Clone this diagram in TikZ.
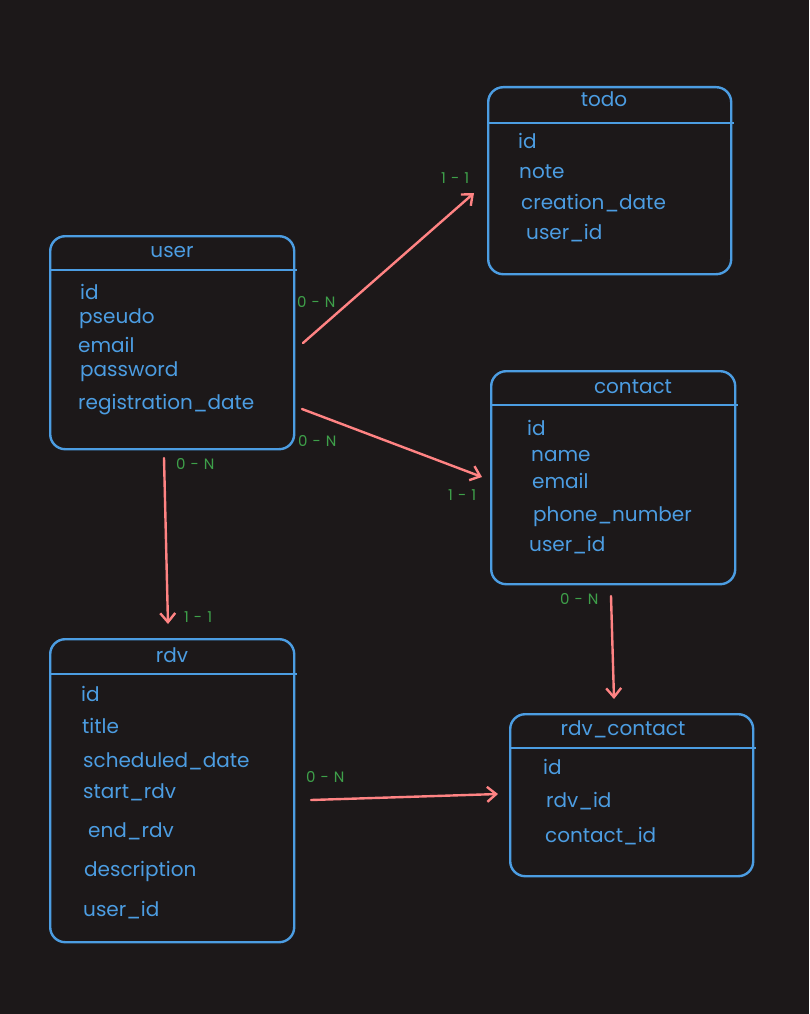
\documentclass[tikz,border=0pt]{standalone}
\usepackage{fontspec}
\setmainfont{Poppins}
\usetikzlibrary{arrows.meta}
\definecolor{bgc}{RGB}{28,24,25}
\definecolor{tblue}{RGB}{76,157,226}
\definecolor{rel}{RGB}{255,131,131}
\definecolor{card}{RGB}{62,160,74}
\tikzset{
  tbl/.style={draw=tblue, line width=2.4pt, rounded corners=15pt, inner sep=0pt, anchor=north west},
  hdr/.style={draw=tblue, line width=2.4pt},
  ttl/.style={text=tblue, font=\fontsize{20}{24}\selectfont, anchor=base, inner sep=0pt},
  fld/.style={text=tblue, font=\fontsize{20}{24}\selectfont, anchor=base west, inner sep=0pt},
  crd/.style={text=card, font=\fontsize{15}{17}\selectfont, anchor=base west, inner sep=0pt},
  link/.style={draw=rel, line width=2.4pt, line cap=round,
    -{Straight Barb[length=9pt,width=15pt,line width=2.4pt]}}
}
\begin{document}
\begin{tikzpicture}[x=1pt,y=-1pt]
  \fill[bgc] (0,0) rectangle (809,1014);
  \useasboundingbox (0,0) rectangle (809,1014);

  % ---- user ----
  \node[tbl, minimum width=244pt, minimum height=213pt] (user) at (49,235) {};
  \draw[hdr] ([yshift=-35pt]user.north west) -- ([xshift=2pt,yshift=-35pt]user.north east);
  \node[ttl] (user-t) at (172,257) {user};
  \node[fld] (user-f1) at (80,299) {id};
  \node[fld] (user-f2) at (79,323) {pseudo};
  \node[fld] (user-f3) at (78,352) {email};
  \node[fld] (user-f4) at (80,376) {password};
  \node[fld] (user-f5) at (78,409) {registration\_date};

  % ---- todo ----
  \node[tbl, minimum width=243pt, minimum height=187pt] (todo) at (487,86) {};
  \draw[hdr] ([yshift=-37pt]todo.north west) -- ([xshift=2pt,yshift=-37pt]todo.north east);
  \node[ttl] (todo-t) at (604,107) {todo};
  \node[fld] (todo-f1) at (518,148) {id};
  \node[fld] (todo-f2) at (519,178) {note};
  \node[fld] (todo-f3) at (521,209) {creation\_date};
  \node[fld] (todo-f4) at (526,239) {user\_id};

  % ---- contact ----
  \node[tbl, minimum width=244pt, minimum height=213pt] (contact) at (490,370) {};
  \draw[hdr] ([yshift=-35pt]contact.north west) -- ([xshift=2pt,yshift=-35pt]contact.north east);
  \node[ttl] (contact-t) at (633,393) {contact};
  \node[fld] (contact-f1) at (527,435) {id};
  \node[fld] (contact-f2) at (531,461) {name};
  \node[fld] (contact-f3) at (532,488) {email};
  \node[fld] (contact-f4) at (533,521) {phone\_number};
  \node[fld] (contact-f5) at (529,551) {user\_id};

  % ---- rdv ----
  \node[tbl, minimum width=244pt, minimum height=303pt] (rdv) at (49,638) {};
  \draw[hdr] ([yshift=-36pt]rdv.north west) -- ([xshift=2pt,yshift=-36pt]rdv.north east);
  \node[ttl] (rdv-t) at (172,662) {rdv};
  \node[fld] (rdv-f1) at (81,701) {id};
  \node[fld] (rdv-f2) at (82,733) {title};
  \node[fld] (rdv-f3) at (83,767) {scheduled\_date};
  \node[fld] (rdv-f4) at (83,798) {start\_rdv};
  \node[fld] (rdv-f5) at (88,837) {end\_rdv};
  \node[fld] (rdv-f6) at (84,876) {description};
  \node[fld] (rdv-f7) at (83,916) {user\_id};

  % ---- rdv_contact ----
  \node[tbl, minimum width=243pt, minimum height=162pt] (rdvc) at (509,713) {};
  \draw[hdr] ([yshift=-35pt]rdvc.north west) -- ([xshift=2pt,yshift=-35pt]rdvc.north east);
  \node[ttl] (rdvc-t) at (623,735) {rdv\_contact};
  \node[fld] (rdvc-f1) at (543,774) {id};
  \node[fld] (rdvc-f2) at (546,807) {rdv\_id};
  \node[fld] (rdvc-f3) at (545,842) {contact\_id};

  % ---- relation end points ----
  \coordinate (ut-a) at (303,343);  \coordinate (ut-b) at (474,193);
  \coordinate (uc-a) at (302,409);  \coordinate (uc-b) at (482,477);
  \coordinate (ur-a) at (164,458);  \coordinate (ur-b) at (168,624);
  \coordinate (cr-a) at (611,596);  \coordinate (cr-b) at (614,699);
  \coordinate (rr-a) at (311,800);  \coordinate (rr-b) at (498,794);

  \draw[link] (ut-a) -- (ut-b);
  \draw[link] (uc-a) -- (uc-b);
  \draw[link] (ur-a) -- (ur-b);
  \draw[link] (cr-a) -- (cr-b);
  \draw[link] (rr-a) -- (rr-b);

  % ---- cardinalities ----
  \node[crd] (c1) at (297,307) {0\,\,-\,\,N};
  \node[crd] (c2) at (441,183) {1\,\,-\,\,1};
  \node[crd] (c3) at (298,446) {0\,\,-\,\,N};
  \node[crd] (c4) at (448,500) {1\,\,-\,\,1};
  \node[crd] (c5) at (176,469) {0\,\,-\,\,N};
  \node[crd] (c6) at (184,622) {1\,\,-\,\,1};
  \node[crd] (c7) at (560,604) {0\,\,-\,\,N};
  \node[crd] (c8) at (306,782) {0\,\,-\,\,N};
\end{tikzpicture}
\end{document}
